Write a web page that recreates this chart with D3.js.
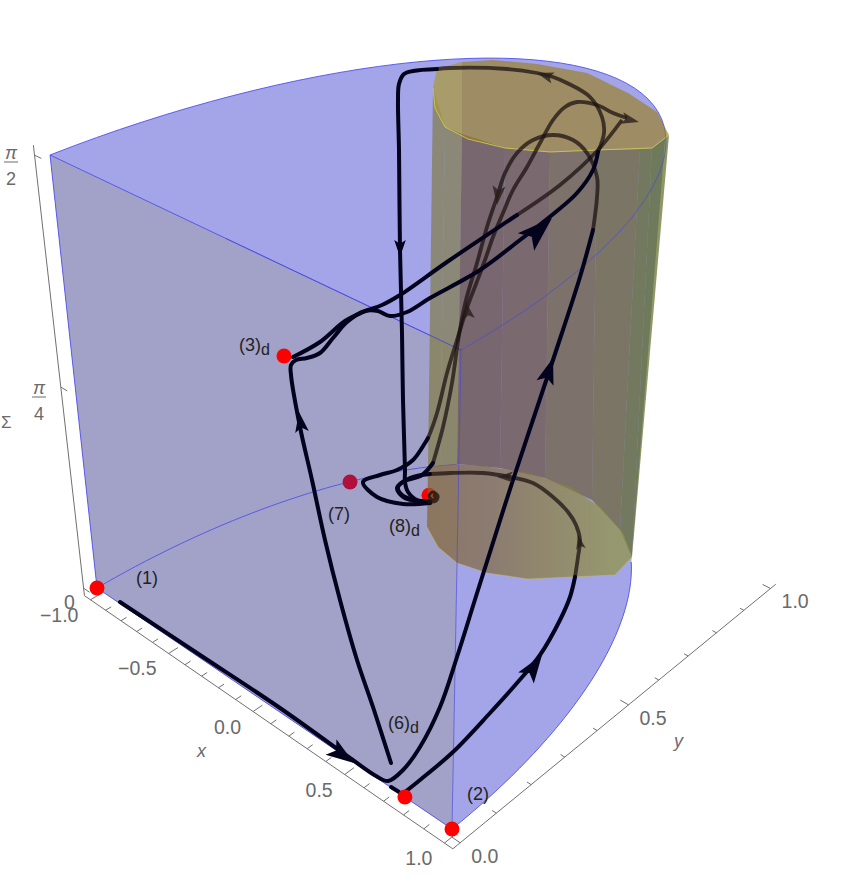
<!DOCTYPE html>
<html>
<head>
<meta charset="utf-8">
<script src="https://cdn.jsdelivr.net/npm/d3@7"></script>
<style>
body { margin: 0; background: white; }
svg { display: block; }
text { font-family: "Liberation Sans", sans-serif; }
</style>
</head>
<body>
<div id="chart"></div>
<script>
let w = 843, h = 879;

// ticks
let xTicks = d3.range(-10, 11).map(d => d / 10);
let yTicks = d3.range(0, 11).map(d => d / 10);
let xLabels = [-1, -0.5, 0, 0.5, 1];
let yLabels = [0, 0.5, 1];
let sigmaTicks = [0, Math.PI / 4, Math.PI / 2];

// critical points in (x, y, sigma)
let redPoints = [[-1, 0, 0], [1, 0, 0], [0.77, 0, 0], [0.2135, 0, 1.296]];
let hiddenPoints = [[0.5165, 0, 1.005, "#b0103c"], [0.875, 0, 1.101, "#ff0000"]];

// trajectories, in projected view units
let run6Front = [[120,602],[200,655],[280,708],[350,758],[376,776],[388,781],[403,770],[420,747],[440,707],[457,657],[478,590],[513,480],[553,360],[580,277],[593,230]];
let run6Back = [[593,230],[597,197],[597,177],[587,153],[573,140],[553,135],[533,140],[517,153],[505,173],[497,197],[487,227],[477,263],[466,300],[459,335],[452,383],[443,427],[433,463]];
let run6End = [[433,463],[422,475],[403,482],[397,488],[403,497],[420,502],[430,502]];
let run3Front = [[391,763],[374,710],[357,660],[340,600],[325,540],[312,480],[300,427],[291,375],[291,365],[296,360],[307,358],[320,353],[333,338],[347,322],[365,311],[378,311],[390,316],[407,312],[430,298],[480,270],[520,240],[552,215],[577,193],[593,170],[598,152]];
let run3Back = [[598,152],[604,133],[602,117],[590,97],[567,83],[553,77],[537,73],[507,69],[450,68],[437,69]];
let run3Drop = [[437,69],[413,71],[404,74],[399,84],[398,100],[399,150],[400,250],[402,333],[403,400],[405,470],[405,482],[408,492],[417,500],[428,501]];
let upperFront = [[293,357],[320,342],[345,321],[363,312],[382,305],[400,295],[447,262],[517,215]];
let upperBack = [[517,215],[560,185],[598,150],[622,120]];
let apexBack = [[627,118],[613,113],[597,105],[577,102],[565,107],[553,120],[540,143],[527,167],[513,190],[503,213],[493,237],[485,260],[476,284],[468,305],[457,340],[447,373],[437,413],[428,438]];
let seven = [[428,438],[425,443],[413,460],[397,470],[380,475],[363,482],[377,497],[403,504],[430,503]];
let run2Stub = [[391,787],[399,792]];
let run2Front = [[405,792],[420,780],[453,752],[490,713],[517,683],[540,655],[560,620],[570,597],[575,577]];
let run2Back = [[575,577],[578,557],[580,540],[576,525],[568,512],[553,497],[533,483],[510,477],[483,473],[450,473],[430,474]];
let run2End = [[430,474],[410,478],[398,487],[402,495],[417,501],[430,503]];
let spiral = [[428,502],[436,501],[438,496],[433,492],[429,496],[433,500],[436,497],[433,495]];

// arrowheads: tail then tip, view units
let frontArrows = [[331,747,354,763],[526,678,542,655],[526,242,552,218],[545,383,553,358],[302,432,299,412],[400,240,400,257]];
let backArrows = [[553,78,537,73],[622,118,639,122],[499,186,497,205],[469,319,466,302],[513,477,497,477],[581,549,578,535]];

// yellow cylinder outline
let yellowTop = [[433,88],[437,69],[462,62],[493,60],[537,64],[587,73],[628,93],[657,112],[669,135],[652,148],[597,150],[550,152],[505,148],[468,139],[445,127],[435,108]];
let yellowRim = [[433,88],[435,108],[445,127],[468,139],[505,148],[550,152],[597,150],[652,148],[669,135]];
let yellowTopLeft = [[433,88],[437,69],[462,62],[462,134],[445,127],[435,108]];
let yellowDisc = [[428,467],[453,464],[483,466],[530,473],[570,487],[600,507],[623,533],[632,557],[615,575],[528,579],[487,573],[457,563],[438,547],[427,527]];
let wallTop = [[433,88],[445,127],[462,134],[505,148],[550,152],[597,150],[640,149],[652,148],[669,135]];
let wallBottom = [[428,467],[440,465],[457,464],[500,468],[545,478],[592,500],[620,530],[632,557],[632,557]];
let wallColors = ["rgb(128,122,60)","rgb(128,122,60)","rgb(98,72,48)","rgb(100,74,48)","rgb(103,86,42)","rgb(100,93,32)","rgb(90,99,23)","rgb(84,99,18)"];

// labels
let pointLabels = [["(1)","",136,584],["(2)","",467,800],["(6)","d",388,729],["(3)","d",239,351],["(7)","",328,520],["(8)","d",389,532]];

let sx = d3.scaleLinear().domain([0, 843]).range([0, w]);
let sy = d3.scaleLinear().domain([0, 879]).range([0, h]);
let sz = d3.scaleLinear().domain([0, Math.PI / 2]).range([0, 1]);

// camera fitted to the box corners
function project(x, y, s) {
    let z = sz(s);
    let d = 1 - 0.0812 * x + 0.17 * y - 0.1438 * z;
    let u = 260.1 + 155.2 * x + 416 * y - 58 * z;
    let v = 698.7 + 63 * x - 133.5 * y - 490.4 * z;
    return [sx(u / d), sy(v / d)];
}
let view = d => [sx(d[0]), sy(d[1])];

let zPad = -0.02 * Math.PI / 2;
let arc = (from, to, s) => d3.range(0, 41).map(i => {
    let t = (from + (to - from) * i / 40) * Math.PI / 180;
    return project(Math.cos(t), Math.sin(t), s);
});

let svg = d3.select("#chart").append("svg")
    .attr("width", w)
    .attr("height", h);

let line = d3.line().curve(d3.curveCatmullRom.alpha(0.5));
let poly = d3.line().curve(d3.curveLinearClosed);
let seg = d3.line();

let defs = svg.append("defs");
let grad = defs.append("linearGradient")
    .attr("id", "discFill")
    .attr("gradientUnits", "userSpaceOnUse")
    .attr("x1", sx(428)).attr("x2", sx(632)).attr("y1", 0).attr("y2", 0);
grad.append("stop").attr("offset", 0).attr("stop-color", "rgb(130,99,50)");
grad.append("stop").attr("offset", 0.3).attr("stop-color", "rgb(130,105,62)");
grad.append("stop").attr("offset", 0.55).attr("stop-color", "rgb(137,122,57)");
grad.append("stop").attr("offset", 0.9).attr("stop-color", "rgb(144,146,60)");

// blue body
let bodyOutline = arc(180, 58, Math.PI / 2)
    .concat(arc(58, 0, 0))
    .concat([project(-1, 0, 0)]);
svg.append("path").attr("d", poly(bodyOutline)).attr("fill", "rgb(163,165,232)");
let quad = [project(-1, 0, 0), project(1, 0, 0), project(1, 0, Math.PI / 2), project(-1, 0, Math.PI / 2)];
svg.append("path").attr("d", poly(quad)).attr("fill", "rgb(162,162,200)");

// box edges
let edges = svg.append("g").attr("fill", "none").attr("stroke", "rgb(80,80,235)").attr("stroke-width", 0.9);
edges.append("path").attr("d", seg(arc(180, 120, 0)));
edges.append("path").attr("d", seg(arc(58, 0, 0)));
edges.append("path").attr("d", seg(arc(180, 58, Math.PI / 2)));
edges.append("path").attr("d", seg([project(-1, 0, 0), project(-1, 0, Math.PI / 2), project(1, 0, Math.PI / 2)]));
edges.append("path").attr("d", seg([project(-1, 0, 0), project(1, 0, 0)]));

// points that sit behind the yellow surface
svg.selectAll(".hidden").data(hiddenPoints).enter().append("circle")
    .attr("cx", d => project(d[0], d[1], d[2])[0])
    .attr("cy", d => project(d[0], d[1], d[2])[1])
    .attr("r", 7.5)
    .attr("fill", d => d[3]);

// yellow cylinder
let wall = svg.append("g");
wallColors.forEach((c, i) => {
    let cell = [wallTop[i], wallTop[i + 1], wallBottom[i + 1], wallBottom[i]].map(view);
    wall.append("path")
        .attr("d", poly(cell))
        .attr("fill", c)
        .attr("fill-opacity", 0.66);
});
svg.append("path").attr("d", poly(yellowDisc.map(view)))
    .attr("fill", "url(#discFill)")
    .attr("fill-opacity", 0.7);
svg.append("path").attr("d", seg(yellowDisc.slice(7).map(view)))
    .attr("fill", "none")
    .attr("stroke", "rgb(200,190,90)")
    .attr("stroke-opacity", 0.6)
    .attr("stroke-width", 0.8);
svg.append("path").attr("d", poly(yellowTop.map(view)))
    .attr("fill", "rgb(155,126,29)")
    .attr("fill-opacity", 0.65);
svg.append("path").attr("d", poly(yellowTopLeft.map(view)))
    .attr("fill", "rgb(210,215,130)")
    .attr("fill-opacity", 0.22);
svg.append("path").attr("d", seg(yellowRim.map(view)))
    .attr("fill", "none")
    .attr("stroke", "rgb(205,200,80)")
    .attr("stroke-width", 0.9);

// edges seen through the yellow
let through = svg.append("g").attr("fill", "none").attr("stroke", "rgb(70,70,225)").attr("stroke-width", 0.9).attr("stroke-opacity", 0.7);
through.append("path").attr("d", seg([project(1, 0, 0), project(1, 0, Math.PI / 2)]));
through.append("path").attr("d", seg(arc(58, 0, Math.PI / 2)));
through.append("path").attr("d", seg([project(1, 0, Math.PI / 2), project(-0.05, 0, Math.PI / 2)]));

// axes
let axes = svg.append("g").attr("stroke", "#707070").attr("stroke-width", 1).attr("fill", "none");
axes.append("path").attr("d", seg([project(-1.04, -0.02, zPad), project(1.04, -0.02, zPad), project(1.04, 1.02, zPad)]));
axes.append("path").attr("d", seg([project(-1.04, -0.02, zPad), project(-1.04, -0.02, Math.PI / 2 * 1.02)]));
axes.selectAll(".xt").data(xTicks).enter().append("path")
    .attr("d", d => seg([project(d, -0.02, zPad), project(d, (xLabels.includes(d) ? 0.005 : -0.005), zPad)]));
axes.selectAll(".yt").data(yTicks).enter().append("path")
    .attr("d", d => seg([project(1.04, d, zPad), project(yLabels.includes(d) ? 1 : 1.02, d, zPad)]));
axes.selectAll(".st").data(sigmaTicks).enter().append("path")
    .attr("d", d => seg([project(-1.04, -0.02, d), project(-1, -0.02, d)]));

// trajectories
let backGroup = svg.append("g").attr("fill", "none").attr("stroke", "rgb(25,15,15)").attr("stroke-opacity", 0.72).attr("stroke-width", 3.8);
[run6Back, run3Back, upperBack, apexBack, run2Back].forEach(r => {
    backGroup.append("path").attr("d", line(r.map(view)));
});
let frontGroup = svg.append("g").attr("fill", "none").attr("stroke", "#03031e").attr("stroke-width", 4).attr("stroke-linecap", "round");
[run6Front, run6End, run3Front, run3Drop, upperFront, seven, run2Stub, run2Front, run2End].forEach(r => {
    frontGroup.append("path").attr("d", line(r.map(view)));
});
svg.append("path").attr("d", line(spiral.map(view)))
    .attr("fill", "none").attr("stroke", "rgb(30,20,15)").attr("stroke-opacity", 0.8).attr("stroke-width", 3);

function addArrows(data, fill) {
    svg.selectAll(null).data(data).enter().append("path")
        .attr("d", d => {
            let l = Math.hypot(d[2] - d[0], d[3] - d[1]);
            let k = l * 0.34;
            return `M0,0L${-l},${-k}L${-0.78 * l},0L${-l},${k}Z`;
        })
        .attr("transform", d => {
            let t = view([d[2], d[3]]);
            let a = Math.atan2(d[3] - d[1], d[2] - d[0]) * 180 / Math.PI;
            return `translate(${t[0]},${t[1]}) rotate(${a})`;
        })
        .attr("fill", fill);
}
addArrows(backArrows, "rgba(40,30,25,0.78)");
addArrows(frontArrows, "#03031e");

// red points in front
svg.selectAll(".red").data(redPoints).enter().append("circle")
    .attr("cx", d => project(d[0], d[1], d[2])[0])
    .attr("cy", d => project(d[0], d[1], d[2])[1])
    .attr("r", 7.5)
    .attr("fill", "#ff0000");

// tick labels
let fmt = d => (d < 0 ? "\u2212" : "") + Math.abs(d).toFixed(1);
let labels = svg.append("g").attr("fill", "#6a6a6a").attr("font-size", 19.5);
labels.selectAll(".xl").data(xLabels).enter().append("text")
    .attr("x", d => project(d, -0.02, zPad)[0] - 12)
    .attr("y", d => project(d, -0.02, zPad)[1] + 22)
    .attr("text-anchor", "end")
    .text(fmt);
labels.selectAll(".yl").data(yLabels).enter().append("text")
    .attr("x", d => project(1.04, d, zPad)[0] + 11)
    .attr("y", d => project(1.04, d, zPad)[1] + 20)
    .text(fmt);
labels.append("text").attr("x", sx(64)).attr("y", sy(609)).text("0");
labels.append("text").attr("x", sx(197)).attr("y", sy(757)).attr("font-style", "italic").attr("font-size", 18).text("x");
labels.append("text").attr("x", sx(674)).attr("y", sy(747)).attr("font-style", "italic").attr("font-size", 18).text("y");
labels.append("text").attr("x", sx(1)).attr("y", sy(428)).attr("font-size", 17).text("\u03a3");

// pi fractions on the sigma axis
let piLabels = [["\u03c0", "2", 11, 162], ["\u03c0", "4", 39, 397]];
piLabels.forEach(p => {
    labels.append("text").attr("x", sx(p[2])).attr("y", sy(p[3] - 3)).attr("text-anchor", "middle").attr("font-style", "italic").attr("font-size", 18).text(p[0]);
    labels.append("text").attr("x", sx(p[2])).attr("y", sy(p[3] + 23)).attr("text-anchor", "middle").attr("font-size", 18).text(p[1]);
    labels.append("path").attr("d", seg([[sx(p[2] - 7), sy(p[3])], [sx(p[2] + 7), sy(p[3])]])).attr("stroke", "#6a6a6a").attr("stroke-width", 1);
});

// point labels
let named = svg.append("g").attr("fill", "#222").attr("font-size", 18);
pointLabels.forEach(p => {
    let t = named.append("text").attr("x", sx(p[2])).attr("y", sy(p[3])).text(p[0]);
    if (p[1]) t.append("tspan").attr("dy", 4).attr("font-size", 16).text(p[1]);
});
</script>
</body>
</html>
